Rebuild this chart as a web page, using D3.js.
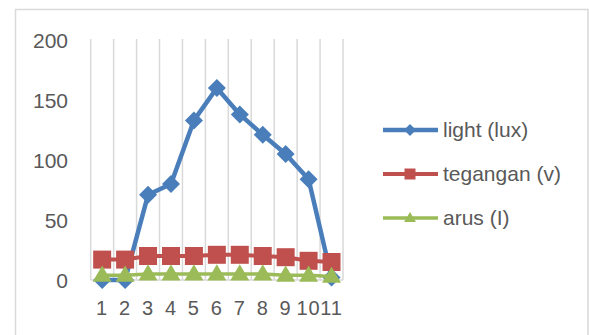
<!DOCTYPE html>
<html><head><meta charset="utf-8">
<script src="https://cdn.jsdelivr.net/npm/d3@7"></script>
<style>body{margin:0;background:#fff}svg{display:block}</style>
</head><body>
<script>
const categories = ["1","2","3","4","5","6","7","8","9","10","11"];
const light = [0,0,71,80,133,160,138,121,105,84,2];
const tegangan = [17,17,20,20,20,21,21,20,19,16,15];
const arus = [4,4,5,5,5,5,5,5,4,4,3];
const seriesNames = ["light (lux)","tegangan (v)","arus (I)"];
const yTicks = [0,50,100,150,200];

const W=589,H=335;
const svg=d3.select("body").append("svg").attr("width",W).attr("height",H);
const font="'Liberation Sans', Arial, sans-serif";
const textCol="#595959";

svg.append("rect").attr("x",15.5).attr("y",9.5).attr("width",572.5).attr("height",340)
  .attr("fill","#fff").attr("stroke","#d9d9d9").attr("stroke-width",1.5);

const x=d3.scaleBand().domain(categories).range([90.7,343]).paddingInner(0).paddingOuter(0);
const y=d3.scaleLinear().domain([0,200]).range([280,40]);

const bounds=categories.map(c=>x(c)).concat([x.range()[1]]);
svg.append("g").selectAll("line").data(bounds).join("line")
  .attr("x1",d=>d).attr("x2",d=>d).attr("y1",y(200)-1).attr("y2",y(0))
  .attr("stroke","#d9d9d9").attr("stroke-width",1.5);
svg.append("line").attr("x1",x.range()[0]).attr("x2",x.range()[1]).attr("y1",y(0)).attr("y2",y(0))
  .attr("stroke","#d9d9d9").attr("stroke-width",1.5);

const yAxis=d3.axisLeft(y).tickValues(yTicks).tickSize(0).tickPadding(0);
const gy=svg.append("g").attr("transform","translate(68,0)").call(yAxis);
gy.select(".domain").remove();
gy.selectAll("text").attr("font-family",font).attr("font-size",21).attr("fill",textCol).attr("dy","0.35em");

const xAxis=d3.axisBottom(x).tickSize(0).tickPadding(0);
const gx=svg.append("g").attr("transform","translate(0,301)").call(xAxis);
gx.select(".domain").remove();
gx.selectAll("text").attr("font-family",font).attr("font-size",20).attr("fill",textCol)
  .attr("dy","0.71em").attr("letter-spacing",1);

const colors=["#4a7ebb","#c0504d","#9bbb59"];
const data=[light,tegangan,arus];
const lw=[4.5,4,3.5];
const cx=c=>x(c)+x.bandwidth()/2;

function marker(i,s){
  if(i===0){const h=s/2;return `M0,${-h}L${h},0L0,${h}L${-h},0Z`;}
  if(i===1){const h=s/2;return `M${-h},${-h}H${h}V${h}H${-h}Z`;}
  const h=s*0.85, w=s/2;
  return `M0,${-h*0.6}L${w},${h*0.4}L${-w},${h*0.4}Z`;
}
const msz=[18,18,19];

data.forEach((vals,i)=>{
  const line=d3.line().x((d,j)=>cx(categories[j])).y(d=>y(d));
  svg.append("path").datum(vals).attr("d",line).attr("fill","none")
    .attr("stroke",colors[i]).attr("stroke-width",lw[i]).attr("stroke-linejoin","round");
  svg.append("g").selectAll("path").data(vals).join("path")
    .attr("transform",(d,j)=>`translate(${cx(categories[j])},${y(d)})`)
    .attr("d",marker(i,msz[i]))
    .attr("fill",colors[i]);
});

const leg=svg.append("g");
seriesNames.forEach((n,i)=>{
  const ly=130+i*44;
  leg.append("line").attr("x1",383).attr("x2",438).attr("y1",ly).attr("y2",ly)
    .attr("stroke",colors[i]).attr("stroke-width",lw[i]);
  leg.append("path").attr("transform",`translate(410,${ly})`)
    .attr("d",marker(i,[12,11,12][i])).attr("fill",colors[i]);
  leg.append("text").attr("x",443).attr("y",ly).attr("dy","0.35em")
    .attr("font-family",font).attr("font-size",21).attr("fill",textCol).text(n);
});
</script>
</body></html>
